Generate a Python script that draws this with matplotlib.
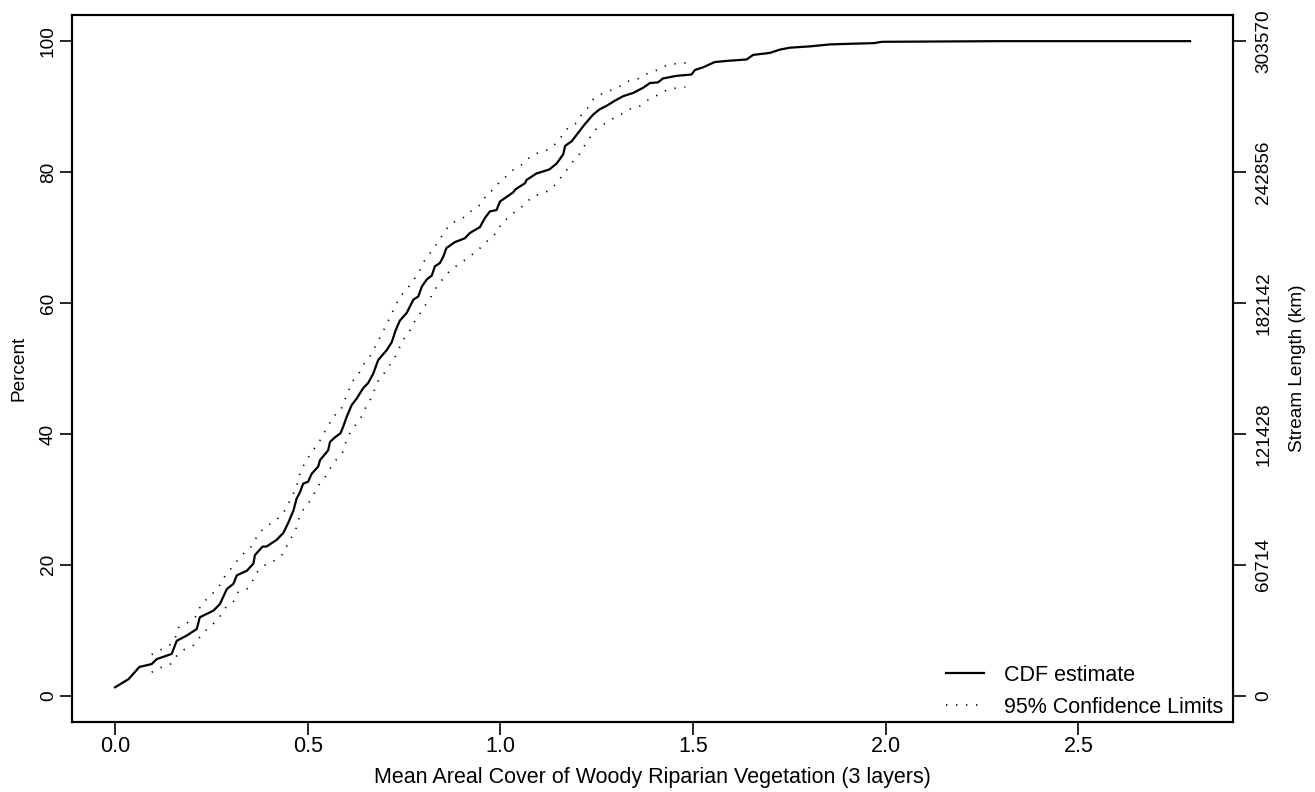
"""CDF of mean areal cover of woody riparian vegetation, with 95% limits"""
import matplotlib
matplotlib.use("Agg")
import matplotlib.pyplot as plt

plt.rcParams["font.family"] = ["Liberation Sans", "DejaVu Sans"]

# CDF estimate
cdf_x = [0.0, 0.035, 0.063, 0.095, 0.108, 0.147, 0.16, 0.186, 0.212, 0.22,
         0.255, 0.272, 0.29, 0.307, 0.316, 0.342, 0.359, 0.363, 0.383, 0.393,
         0.419, 0.437, 0.45, 0.463, 0.471, 0.48, 0.488, 0.501, 0.51, 0.527,
         0.532, 0.553, 0.558, 0.571, 0.585, 0.592, 0.601, 0.614, 0.627, 0.644,
         0.657, 0.67, 0.683, 0.705, 0.718, 0.728, 0.739, 0.757, 0.774, 0.787,
         0.796, 0.809, 0.822, 0.83, 0.843, 0.852, 0.86, 0.882, 0.908, 0.921,
         0.947, 0.96, 0.973, 0.99, 0.999, 1.016, 1.033, 1.04, 1.064, 1.068,
         1.094, 1.111, 1.127, 1.146, 1.163, 1.168, 1.185, 1.202, 1.219, 1.241,
         1.258, 1.275, 1.297, 1.319, 1.345, 1.371, 1.388, 1.409, 1.422, 1.457,
         1.496, 1.505, 1.526, 1.556, 1.591, 1.639, 1.656, 1.699, 1.725, 1.751,
         1.803, 1.855, 1.907, 1.97, 1.99, 2.3, 2.79]
cdf_y = [1.3, 2.55, 4.4, 4.85, 5.6, 6.4, 8.4, 9.2, 10.2, 12.0,
         13.0, 14.0, 16.3, 17.1, 18.4, 19.1, 20.2, 21.5, 22.8, 22.8,
         23.8, 24.9, 26.5, 28.3, 30.1, 31.1, 32.4, 32.7, 33.9, 35.0,
         36.0, 37.5, 38.8, 39.5, 40.1, 41.1, 42.6, 44.4, 45.4, 47.0,
         47.8, 49.2, 51.3, 52.8, 54.0, 55.8, 57.3, 58.5, 60.5, 61.0,
         62.5, 63.6, 64.2, 65.6, 66.1, 67.1, 68.4, 69.3, 69.9, 70.7,
         71.6, 73.0, 74.0, 74.2, 75.5, 76.2, 76.9, 77.4, 78.3, 78.8,
         79.8, 80.1, 80.4, 81.3, 82.7, 84.0, 84.7, 86.0, 87.3, 88.8,
         89.6, 90.1, 90.9, 91.6, 92.1, 92.9, 93.6, 93.7, 94.3, 94.7,
         94.9, 95.6, 96.0, 96.8, 97.0, 97.2, 97.9, 98.2, 98.7, 99.0,
         99.2, 99.5, 99.6, 99.7, 99.9, 100.0, 100.0]

# upper 95% confidence limit
upper_x = [0.095, 0.117, 0.143, 0.156, 0.164, 0.186, 0.208, 0.218, 0.233, 0.253,
           0.27, 0.283, 0.298, 0.314, 0.329, 0.35, 0.361, 0.374, 0.393, 0.415,
           0.434, 0.447, 0.458, 0.471, 0.476, 0.484, 0.497, 0.51, 0.527, 0.538,
           0.553, 0.564, 0.585, 0.595, 0.605, 0.614, 0.631, 0.642, 0.66, 0.69,
           0.715, 0.739, 0.757, 0.771, 0.787, 0.796, 0.81, 0.826, 0.839, 0.853,
           0.866, 0.886, 0.91, 0.928, 0.951, 0.964, 0.984, 0.999, 1.019, 1.036,
           1.061, 1.078, 1.1, 1.128, 1.146, 1.161, 1.176, 1.198, 1.211, 1.228,
           1.241, 1.262, 1.287, 1.31, 1.333, 1.359, 1.383, 1.408, 1.431, 1.46,
           1.487]
upper_y = [6.3, 7.0, 7.8, 8.8, 10.4, 11.1, 12.0, 13.3, 14.5, 15.6,
           16.7, 18.1, 19.2, 20.4, 21.5, 22.5, 23.6, 24.9, 25.9, 26.7,
           27.7, 29.0, 30.4, 31.8, 33.3, 34.7, 35.9, 37.3, 38.4, 39.8,
           41.1, 42.6, 43.5, 45.0, 46.4, 47.9, 49.0, 50.4, 51.7, 55.0,
           58.0, 61.0, 62.0, 63.3, 64.4, 65.8, 67.1, 68.2, 69.5, 70.6,
           71.8, 72.6, 73.2, 74.3, 75.1, 76.6, 77.4, 78.6, 79.5, 80.5,
           81.3, 82.4, 83.0, 83.5, 84.5, 85.6, 86.8, 87.5, 88.8, 89.9,
           91.1, 91.9, 92.5, 93.1, 93.9, 94.3, 95.1, 95.6, 96.3, 96.6,
           96.7]

# lower 95% confidence limit
lower_x = [0.095, 0.118, 0.144, 0.16, 0.177, 0.203, 0.218, 0.236, 0.255, 0.272,
           0.286, 0.307, 0.319, 0.342, 0.357, 0.369, 0.387, 0.412, 0.432, 0.445,
           0.457, 0.469, 0.476, 0.487, 0.503, 0.516, 0.529, 0.545, 0.558, 0.573,
           0.59, 0.599, 0.61, 0.623, 0.638, 0.65, 0.663, 0.673, 0.683, 0.7,
           0.713, 0.726, 0.748, 0.763, 0.774, 0.789, 0.802, 0.817, 0.828, 0.843,
           0.858, 0.873, 0.895, 0.915, 0.936, 0.955, 0.973, 0.992, 1.003, 1.023,
           1.042, 1.064, 1.081, 1.105, 1.128, 1.146, 1.161, 1.176, 1.189, 1.206,
           1.219, 1.234, 1.247, 1.268, 1.29, 1.313, 1.334, 1.36, 1.383, 1.403,
           1.427, 1.453, 1.48]
lower_y = [3.6, 4.3, 4.85, 6.1, 7.0, 7.7, 8.8, 10.0, 11.0, 12.1,
           13.4, 14.4, 15.8, 16.3, 17.6, 18.9, 19.9, 20.6, 21.4, 22.8,
           24.1, 25.4, 26.9, 28.3, 29.5, 30.8, 32.2, 33.4, 34.7, 36.0,
           37.1, 38.7, 40.2, 41.3, 42.5, 44.0, 45.3, 46.7, 48.1, 49.4,
           50.5, 51.7, 54.4, 55.5, 56.9, 58.1, 59.4, 60.6, 61.9, 63.1,
           64.2, 65.2, 66.0, 66.9, 67.8, 68.8, 69.9, 70.8, 72.3, 73.1,
           74.2, 75.0, 76.2, 76.7, 77.2, 78.3, 79.5, 80.6, 81.7, 82.8,
           84.1, 85.4, 86.5, 87.3, 88.1, 88.8, 89.6, 90.0, 91.0, 91.6,
           92.4, 92.8, 93.0]

pct_ticks = [0, 20, 40, 60, 80, 100]
length_labels = ["0", "60714", "121428", "182142", "242856", "303570"]
x_ticks = [0.0, 0.5, 1.0, 1.5, 2.0, 2.5]

h_size = 15.5   # horizontal text
v_size = 13.7   # rotated text

fig = plt.figure(figsize=(13.15, 7.92), dpi=100)
ax = fig.add_axes([0.0548, 0.0884, 0.8829, 0.8927])

ax.plot(cdf_x, cdf_y, color="black", lw=1.6, label="CDF estimate")
dots = (0, (0.8, 5.2))
ax.plot(upper_x, upper_y, color="black", lw=1.2, linestyle=dots,
        label="95% Confidence Limits")
ax.plot(lower_x, lower_y, color="black", lw=1.2, linestyle=dots)

ax.set_xlim(-0.1116, 2.9016)
ax.set_ylim(-4, 104)
ax.set_xticks(x_ticks)
ax.set_xticklabels([f"{v:.1f}" for v in x_ticks])
ax.set_yticks(pct_ticks)
ax.set_yticklabels([str(v) for v in pct_ticks], rotation=90, va="center")
ax.tick_params(direction="out", length=9, width=1.2)
ax.tick_params(axis="x", labelsize=h_size, pad=1)
ax.tick_params(axis="y", labelsize=v_size, pad=2)
for s in ax.spines.values():
    s.set_linewidth(1.5)

ax.set_xlabel("Mean Areal Cover of Woody Riparian Vegetation (3 layers)",
              fontsize=h_size, labelpad=7)
ax.set_ylabel("Percent", fontsize=v_size, labelpad=9)

ax2 = ax.twinx()
ax2.set_ylim(ax.get_ylim())
ax2.set_yticks(pct_ticks)
ax2.set_yticklabels(length_labels, rotation=90, va="center")
ax2.tick_params(direction="out", length=9, width=1.2, labelsize=v_size, pad=7)
ax2.set_ylabel("Stream Length (km)", fontsize=v_size, labelpad=12)
for s in ax2.spines.values():
    s.set_linewidth(1.5)

ax.legend(loc="lower right", bbox_to_anchor=(0.999, -0.006), frameon=False,
          fontsize=h_size, handlelength=1.75, handletextpad=0.93,
          labelspacing=0.5, borderaxespad=0)

fig.savefig("out.png", dpi=100)
